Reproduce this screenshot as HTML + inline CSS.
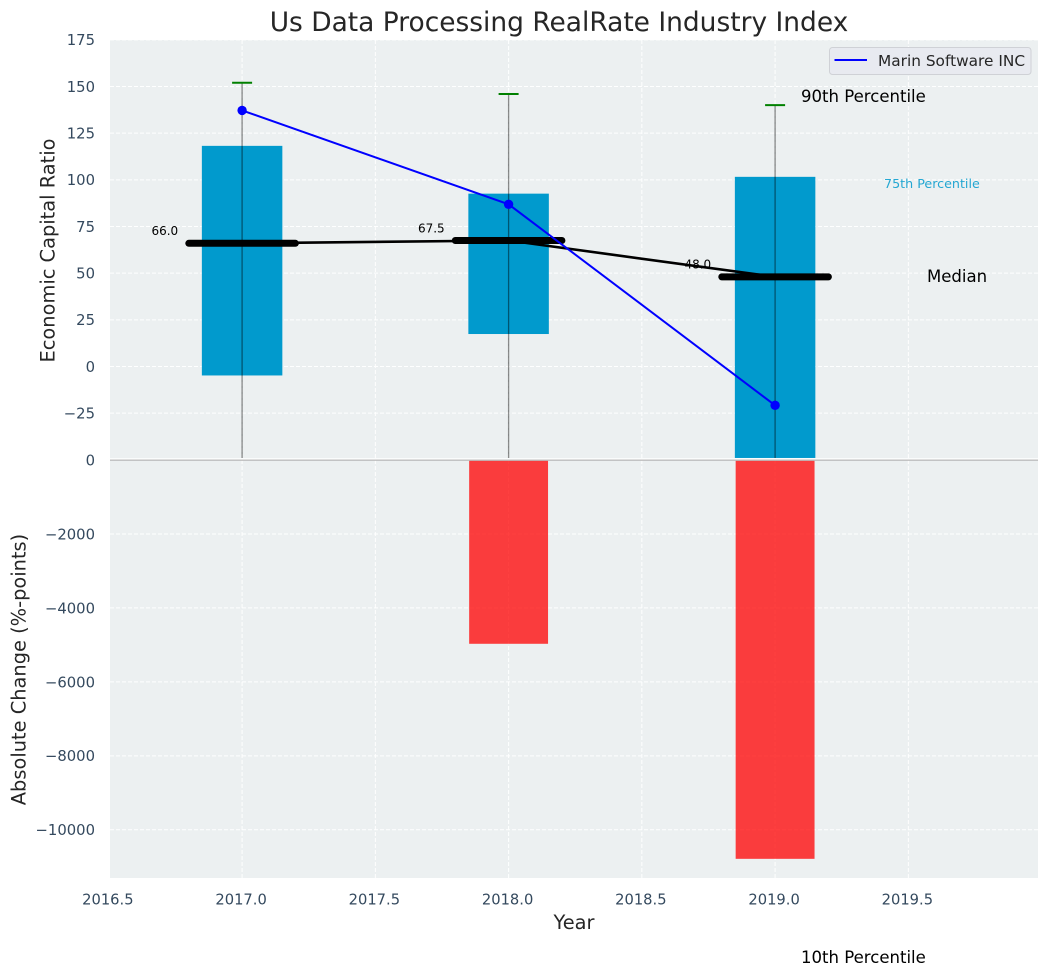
<!DOCTYPE html>
<html lang="en">
<head>
<meta charset="utf-8">
<title>Us Data Processing RealRate Industry Index</title>
<style>
html,body{margin:0;padding:0;background:#fff;width:1048px;height:976px;overflow:hidden}
svg{display:block}
text{font-family:"DejaVu Sans","Liberation Sans",sans-serif}
</style>
</head>
<body>
<svg id="chart" xmlns="http://www.w3.org/2000/svg" width="1048" height="976" viewBox="0 0 1048 976">
  <rect x="110" y="40" width="928" height="838" fill="#ecf0f1"/>
  <g id="grid"></g>
  <g id="marks"></g>
  <g id="ticks"></g>
  <text x="559" y="31" font-size="26.45" fill="#262626" text-anchor="middle">Us Data Processing RealRate Industry Index</text>
  <text transform="translate(54.5,250.5) rotate(-90)" font-size="19.4" fill="#262626" text-anchor="middle">Economic Capital Ratio</text>
  <text transform="translate(25.5,669.5) rotate(-90)" font-size="19.4" fill="#262626" text-anchor="middle">Absolute Change (%-points)</text>
  <text x="574" y="929" font-size="19.4" fill="#262626" text-anchor="middle">Year</text>
  <text x="801" y="102" font-size="16.55" fill="#000">90th Percentile</text>
  <text x="884" y="188" font-size="12.7" fill="#019acd" fill-opacity="0.85">75th Percentile</text>
  <text x="927" y="282" font-size="16.55" fill="#000">Median</text>
  <text x="801" y="963" font-size="16.55" fill="#000">10th Percentile</text>
  <g>
    <rect x="829.5" y="47.5" width="201.5" height="27" rx="3" fill="#e8eaf0" stroke="#cfd1d6" stroke-width="1"/>
    <line x1="834.5" y1="60" x2="867" y2="60" stroke="#0000ff" stroke-width="2"/>
    <text x="878" y="66" font-size="15.35" fill="#262626">Marin Software INC</text>
  </g>
</svg>
<script>
// Chart data
const years = [2017, 2018, 2019];
const p90 = [152, 146, 140];
const p75 = [118.2, 92.6, 101.6];
const p25 = [-4.8, 17.4, -49];
const p10 = [-49, -49, -49];
const medians = [66.0, 67.5, 48.0];
const companyValues = [137.2, 86.9, -20.8];
const absoluteChangeYears = [2018, 2019];
const absoluteChange = [-4970, -10785];
const xTicks = [2016.5, 2017, 2017.5, 2018, 2018.5, 2019, 2019.5];
const upperYTicks = [175, 150, 125, 100, 75, 50, 25, 0, -25];
const lowerYTicks = [0, -2000, -4000, -6000, -8000, -10000];

// Axis functions
function xScale(v) { return 242.1 + (v - 2017) * 266.5; }
function upperY(v) { return 366.5 - v * 1.8667; }
function lowerY(v) { return 460 - v * 0.03698; }

const NS = 'http://www.w3.org/2000/svg';
const gridG = document.getElementById('grid');
const marksG = document.getElementById('marks');
const ticksG = document.getElementById('ticks');

function make(tag, parent, props, content) {
  const el = document.createElementNS(NS, tag);
  for (const k in props) el.setAttribute(k, props[k]);
  if (content !== undefined) el.textContent = content;
  parent.appendChild(el);
  return el;
}
function fmt(v) { return String(v).replace('-', '\u2212'); }

// Grid and tick labels
xTicks.forEach(function (t) {
  const x = xScale(t);
  const line = make('line', gridG, {x1: x, x2: x, y1: 40, y2: 878, stroke: '#fff', 'stroke-width': 1, 'stroke-dasharray': '4 2', 'stroke-opacity': 0.95});
  
  
  const label = make('text', ticksG, {x: x - 1, y: 904.5, 'font-size': 14.7, fill: '#34495e', 'text-anchor': 'middle'}, t.toFixed(1));
  
  
});
upperYTicks.forEach(function (t) {
  const y = upperY(t);
  const line = make('line', gridG, {x1: 110, x2: 1038, y1: y, y2: y, stroke: '#fff', 'stroke-width': 1, 'stroke-dasharray': '4 2', 'stroke-opacity': 0.95});
  
  
  const label = make('text', ticksG, {x: 95, y: y + 5.4, 'font-size': 14.8, fill: '#34495e', 'text-anchor': 'end'}, fmt(t));
  
  
});
lowerYTicks.forEach(function (t) {
  const y = lowerY(t);
  if (t !== 0) {
    const line = make('line', gridG, {x1: 110, x2: 1038, y1: y, y2: y, stroke: '#fff', 'stroke-width': 1, 'stroke-dasharray': '4 2', 'stroke-opacity': 0.95});
    
    
  }
  const label = make('text', ticksG, {x: 95, y: y + 5.4, 'font-size': 14.8, fill: '#34495e', 'text-anchor': 'end'}, fmt(t));
  
  
});

// Red absolute-change bars
absoluteChangeYears.forEach(function (yr, i) {
  const x0 = xScale(yr - 0.148), x1 = xScale(yr + 0.148);
  const y0 = lowerY(0), y1 = lowerY(absoluteChange[i]);
  const bar = make('rect', marksG, {x: x0, y: y0, width: x1 - x0, height: y1 - y0, fill: '#ff0000', 'fill-opacity': 0.75});
  
  
});

// Blue interquartile bars
years.forEach(function (yr, i) {
  const x0 = xScale(yr - 0.151), x1 = xScale(yr + 0.151);
  const y0 = upperY(p75[i]), y1 = upperY(p25[i]);
  const bar = make('rect', marksG, {x: x0, y: y0, width: x1 - x0, height: y1 - y0, fill: '#019acd'});
  
  
});

// Axis separator
const sepWhite = make('line', marksG, {x1: 110, x2: 1038, y1: 458.9, y2: 458.9, stroke: '#fff', 'stroke-width': 1.4});


const sepGray = make('line', marksG, {x1: 110, x2: 1038, y1: 460.2, y2: 460.2, stroke: '#bdbdbd', 'stroke-width': 1.3});



// Median value labels
years.forEach(function (yr, i) {
  const label = make('text', marksG, {x: xScale(yr - 0.29), y: upperY(medians[i] + 4.4), 'font-size': 12, fill: '#000', 'text-anchor': 'middle'}, medians[i].toFixed(1));
  
  
});

// Median connecting line
const medianPath = make('polyline', marksG, {
  points: years.map(function (yr, i) { return xScale(yr) + ',' + upperY(medians[i]); }).join(' '),
  fill: 'none', stroke: '#000', 'stroke-width': 2.6
});



// Thick median segments
years.forEach(function (yr, i) {
  const y = upperY(medians[i]);
  const seg = make('line', marksG, {x1: xScale(yr - 0.2), x2: xScale(yr + 0.2), y1: y, y2: y, stroke: '#000', 'stroke-width': 7, 'stroke-linecap': 'round'});
  
  
});

// Whiskers with 90th percentile caps
years.forEach(function (yr, i) {
  const x = xScale(yr);
  const whisker = make('line', marksG, {x1: x, x2: x, y1: upperY(p90[i]), y2: upperY(p10[i]), stroke: '#000', 'stroke-opacity': 0.45, 'stroke-width': 1.3});
  
  
  const cap = make('line', marksG, {x1: x - 10, x2: x + 10, y1: upperY(p90[i]), y2: upperY(p90[i]), stroke: '#008000', 'stroke-width': 2});
  
  
});

// Company series
const companyLine = make('polyline', marksG, {
  points: years.map(function (yr, i) { return xScale(yr) + ',' + upperY(companyValues[i]); }).join(' '),
  fill: 'none', stroke: '#0000ff', 'stroke-width': 2
});


years.forEach(function (yr, i) {
  const dot = make('circle', marksG, {cx: xScale(yr), cy: upperY(companyValues[i]), r: 4.7, fill: '#0000ff'});
  
  
});
</script>
</body>
</html>
